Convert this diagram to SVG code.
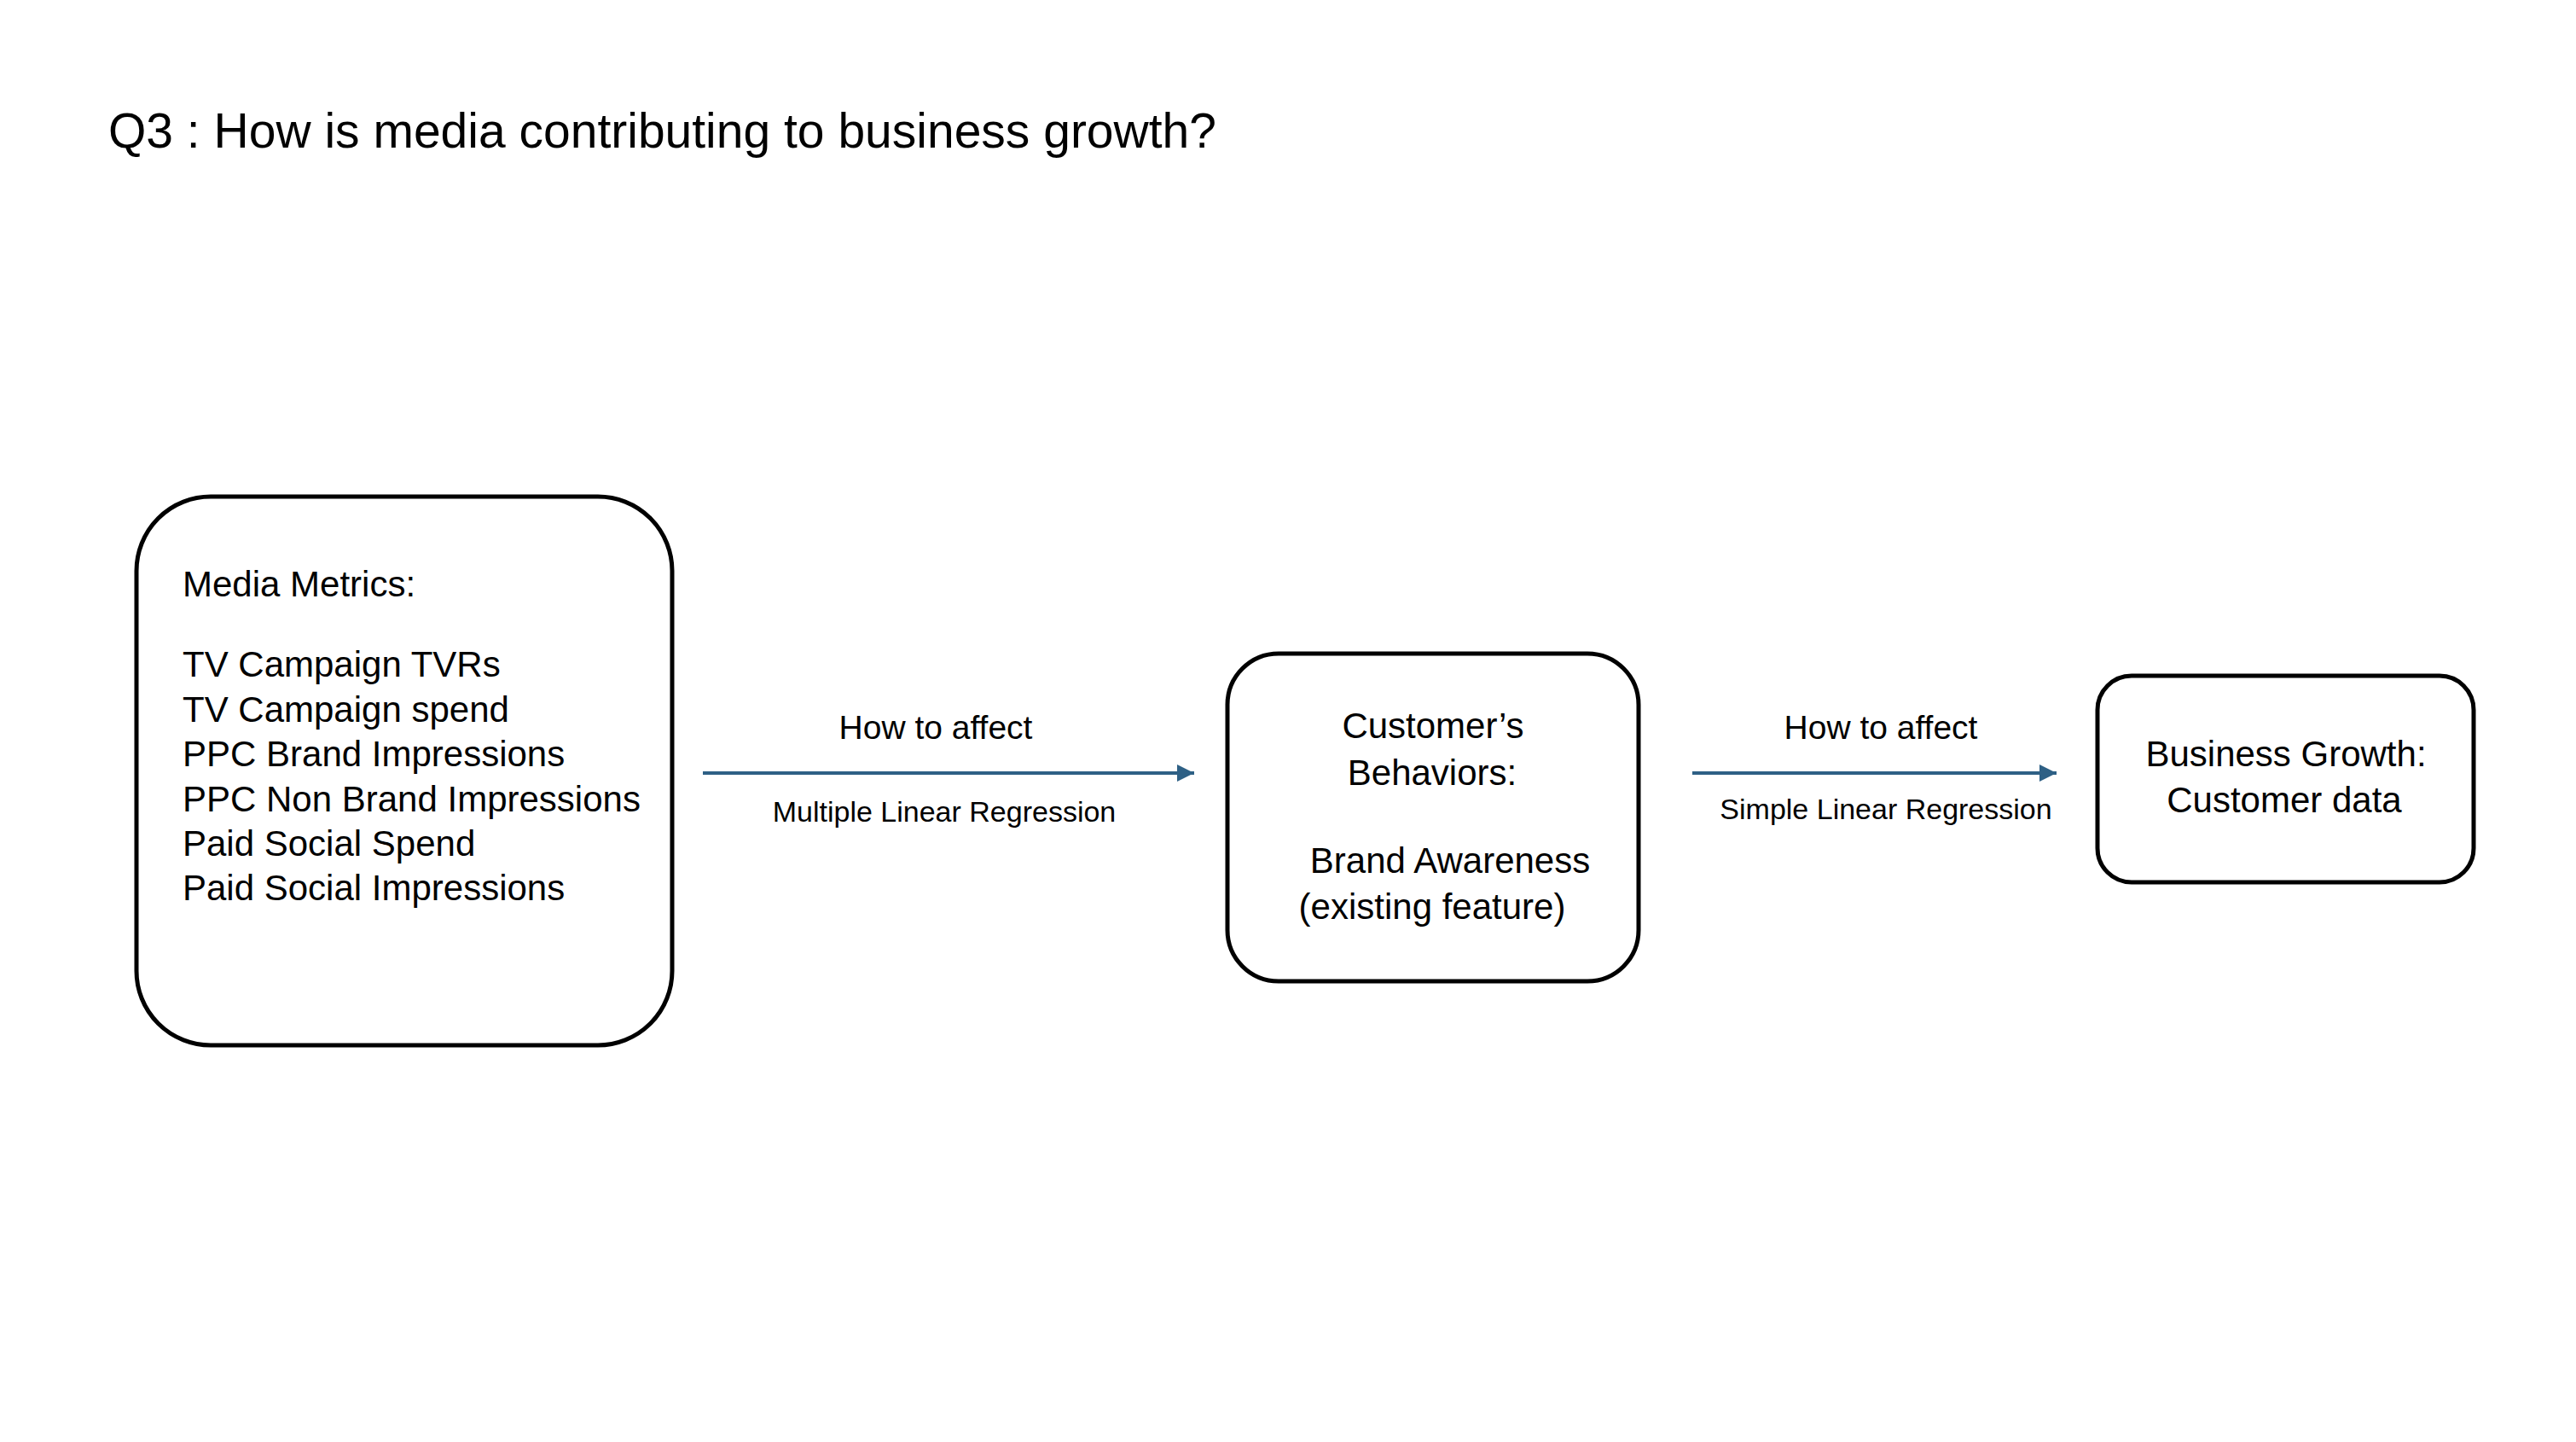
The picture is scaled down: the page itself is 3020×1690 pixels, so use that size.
<svg xmlns="http://www.w3.org/2000/svg" width="3020" height="1690" viewBox="0 0 3020 1690">
<style>
.t{font-family:"Liberation Sans",Arial,sans-serif;fill:#000}
.title{font-size:57px}
.box{fill:#fff;stroke:#000;stroke-width:5}
.bt{font-size:42px}
.lbl{font-size:39px;text-anchor:middle}
.sub{font-size:34px;text-anchor:middle}
.mid{text-anchor:middle}
.conn{stroke:#2E6085;stroke-width:4;fill:none}
</style>
<defs>
<marker id="ah" viewBox="0 0 10 10" refX="10" refY="5" markerWidth="5" markerHeight="5" markerUnits="strokeWidth" orient="auto">
<path d="M0,0 L10,5 L0,10 z" fill="#2E6085"/>
</marker>
</defs>
<rect width="3020" height="1690" fill="#fff"/>
<text class="t title" x="127" y="173">Q3 : How is media contributing to business growth?</text>
<g id="connectors">
<line class="conn" x1="824" y1="906" x2="1400" y2="906" marker-end="url(#ah)"/>
<line class="conn" x1="1984" y1="906" x2="2411" y2="906" marker-end="url(#ah)"/>
<text class="t lbl" x="1097" y="866">How to affect</text>
<text class="t sub" x="1107" y="963">Multiple Linear Regression</text>
<text class="t lbl" x="2205" y="866">How to affect</text>
<text class="t sub" x="2211" y="960">Simple Linear Regression</text>
</g>
<g id="media-metrics">
<rect class="box" x="160" y="582" width="628" height="643" rx="87" ry="87"/>
<text class="t bt" x="214" y="699">Media Metrics:</text>
<text class="t bt" x="214" y="793">TV Campaign TVRs</text>
<text class="t bt" x="214" y="846">TV Campaign spend</text>
<text class="t bt" x="214" y="898">PPC Brand Impressions</text>
<text class="t bt" x="214" y="951">PPC Non Brand Impressions</text>
<text class="t bt" x="214" y="1003">Paid Social Spend</text>
<text class="t bt" x="214" y="1055">Paid Social Impressions</text>
</g>
<g id="customer-behaviors">
<rect class="box" x="1439" y="766" width="482" height="384" rx="60" ry="60"/>
<text class="t bt mid" x="1680" y="865">Customer’s</text>
<text class="t bt mid" x="1679" y="920">Behaviors:</text>
<text class="t bt mid" x="1700" y="1023">Brand Awareness</text>
<text class="t bt mid" x="1679" y="1077">(existing feature)</text>
</g>
<g id="business-growth">
<rect class="box" x="2459" y="792" width="441" height="242" rx="40" ry="40"/>
<text class="t bt mid" x="2680" y="898">Business Growth:</text>
<text class="t bt mid" x="2678" y="952">Customer data</text>
</g>
</svg>
